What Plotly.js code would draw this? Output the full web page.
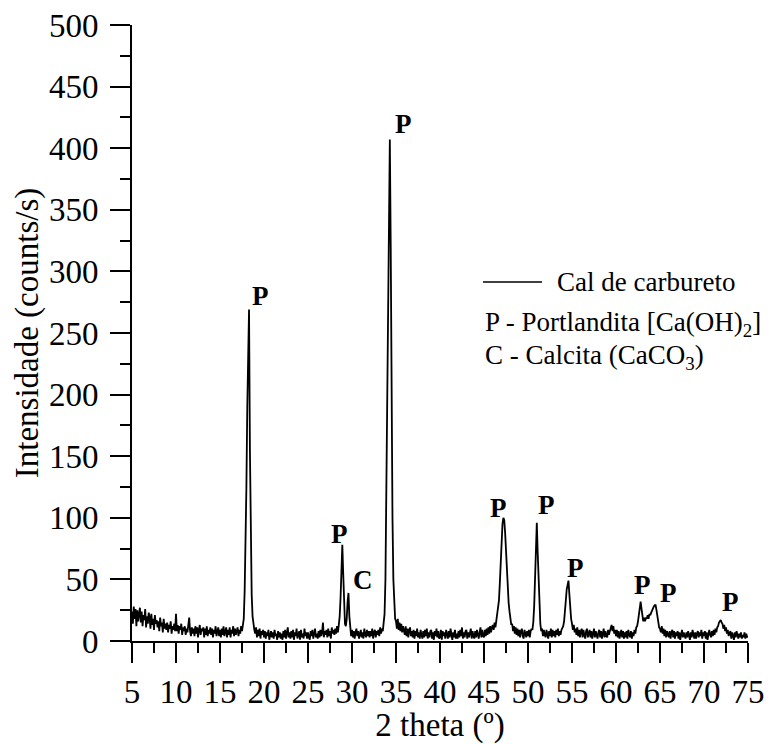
<!DOCTYPE html>
<html>
<head>
<meta charset="utf-8">
<script src="https://cdn.plot.ly/plotly-3.0.1.min.js"></script>
<style>html,body{margin:0;padding:0;background:#fff;}#chart{width:776px;height:744px;}</style>
</head>
<body>
<div id="chart"></div>
<script>
// 2 theta scan: first angle and step (degrees)
const thetaStart = 5;
const thetaStep = 0.1;
// Intensity (counts/s), one row per degree (5.0 ... 75.0)
const intensity = [
  24,14,28,18,26,12,25,16,22,27,
  15,24,12,21,17,26,11,20,14,23,
  19,10,22,13,18,9,21,14,17,11,
  16,8,19,12,15,7,18,10,14,9,
  15,7,13,10,16,6,12,9,14,8,
  22,8,13,6,12,9,14,5,11,8,
  12,5,10,7,13,19,8,4,11,6,
  10,4,12,6,11,3,9,13,5,10,
  8,11,3,10,5,12,4,9,6,11,
  5,10,3,9,6,12,4,8,11,4,
  9,3,10,5,12,4,8,11,3,9,
  5,11,3,9,6,12,4,10,5,8,
  11,4,9,6,12,8,12,18,40,70,
  125,190,245,269,155,80,38,20,12,9,
  6,11,3,9,4,10,2,8,5,9,
  3,8,2,7,4,9,1,6,8,3,
  7,2,9,4,6,1,8,3,7,2,
  6,1,8,3,9,2,6,11,3,7,
  2,8,3,9,1,7,4,10,2,6,
  8,1,9,3,6,2,10,4,7,2,
  7,3,1,8,4,9,2,6,10,3,
  6,2,8,3,9,4,7,15,3,8,
  5,9,3,10,4,8,2,11,6,9,
  5,10,6,12,7,13,20,35,60,78,
  55,25,14,12,18,32,39,20,8,4,
  9,3,8,2,7,10,4,8,2,6,
  9,3,7,2,10,5,3,9,4,8,
  3,8,4,10,2,7,9,3,8,5,
  9,4,11,6,10,8,15,22,50,128,
  210,310,390,407,320,190,100,50,28,18,
  16,10,18,9,15,8,14,7,12,9,
  5,12,4,10,3,9,11,4,8,3,
  9,2,8,4,10,3,7,2,9,5,
  2,8,3,9,4,10,2,7,3,8,
  9,2,7,1,8,4,10,3,8,2,
  3,9,1,8,4,7,2,9,5,2,
  8,3,10,4,1,7,3,9,2,6,
  2,8,3,9,4,11,2,7,3,8,
  9,2,7,3,8,10,2,8,4,2,
  8,3,9,4,2,7,11,3,9,4,
  3,9,4,10,5,11,6,12,7,11,
  13,9,15,11,17,20,24,33,47,68,
  80,95,100,98,88,70,52,40,31,24,
  18,13,14,8,12,6,11,5,10,4,
  9,3,8,10,4,2,9,5,3,8,
  4,9,3,8,10,9,15,28,48,72,
  96,72,45,25,14,8,10,4,9,5,
  3,9,5,2,8,4,10,3,9,4,
  8,3,9,5,10,4,8,5,9,10,
  12,16,22,33,42,48,49,38,26,18,
  14,9,13,7,10,5,11,4,9,3,
  8,10,3,9,5,2,8,10,3,6,
  9,3,8,2,7,10,3,8,5,2,
  7,9,3,8,2,6,10,3,8,4,
  3,9,5,8,11,13,8,12,6,9,
  4,9,3,8,2,7,9,3,8,2,
  7,3,8,2,9,5,3,8,2,7,
  4,9,6,11,12,16,22,29,32,26,
  20,16,19,16,19,18,21,18,22,21,
  23,25,27,28,29,29,25,19,14,11,
  10,7,12,6,10,4,9,3,8,5,
  3,8,2,7,9,3,8,2,7,4,
  8,2,7,1,6,9,3,7,4,2,
  7,3,8,4,1,7,3,9,4,2,
  7,2,6,8,3,7,4,9,2,7,
  4,8,2,7,1,6,9,5,3,8,
  4,9,5,10,7,11,12,15,16,17,
  15,14,10,13,8,11,6,9,4,6,
  8,2,7,4,1,7,3,8,4,2,
  6,3,7,2,5,3,7,2,6,3,
  4
];
// Peak labels
const peakLabels = ["P","P","C","P","P","P","P","P","P","P"];
const peakLabelX = [19.55, 28.6, 31.2, 35.8, 46.7, 52.1, 55.45, 63.0, 66.0, 73.0];
const peakLabelY = [280, 87, 49.5, 420, 108, 110, 59, 45.5, 39, 32];
// Legend texts
const seriesName = "Cal de carbureto";
const phaseNotes = ["P - Portlandita [Ca(OH)<sub>2</sub>]", "C - Calcita (CaCO<sub>3</sub>)"];
// Axis texts
const xTitle = "2 theta (º)";
const yTitle = "Intensidade (counts/s)";

const serif = "Liberation Serif, Times New Roman, serif";

const trace = {
  type: "scatter",
  mode: "lines",
  name: seriesName,
  x0: thetaStart,
  dx: thetaStep,
  y: intensity,
  line: {color: "#000", width: 1.8},
  showlegend: false
};

const annotations = peakLabels.map((t, i) => ({
  x: peakLabelX[i], y: peakLabelY[i], xref: "x", yref: "y",
  text: "<b>" + t + "</b>", showarrow: false,
  font: {family: serif, size: 27, color: "#000"},
  xanchor: "center", yanchor: "middle"
}));

const legFont = {family: serif, size: 27, color: "#000"};
annotations.push({
  xref: "paper", yref: "paper", x: 0.6867, y: 0.5828,
  text: seriesName, showarrow: false, xanchor: "left", yanchor: "middle",
  font: legFont
});
annotations.push({
  xref: "paper", yref: "paper", x: 0.5698, y: 0.514,
  text: phaseNotes[0], showarrow: false, xanchor: "left", yanchor: "middle",
  font: legFont
});
annotations.push({
  xref: "paper", yref: "paper", x: 0.5698, y: 0.461,
  text: phaseNotes[1], showarrow: false, xanchor: "left", yanchor: "middle",
  font: legFont
});

const layout = {
  width: 776, height: 744,
  margin: {l: 132, r: 28, t: 25, b: 103},
  paper_bgcolor: "#fff", plot_bgcolor: "#fff",
  font: {family: serif, color: "#000", size: 33},
  showlegend: false,
  xaxis: {
    range: [5, 75], tickmode: "linear", tick0: 5, dtick: 5,
    ticks: "outside", ticklen: 20, tickwidth: 2, tickcolor: "#000",
    minor: {dtick: 2.5, tick0: 5, ticks: "outside", ticklen: 10, tickwidth: 2, tickcolor: "#000"},
    showline: true, linecolor: "#000", linewidth: 2,
    showgrid: false, zeroline: false,
    tickfont: {family: serif, size: 33, color: "#000"},
    title: {text: xTitle, font: {family: serif, size: 33, color: "#000"}, standoff: 0}
  },
  yaxis: {
    range: [0, 500], tickmode: "linear", tick0: 0, dtick: 50,
    ticks: "outside", ticklen: 20, tickwidth: 2, tickcolor: "#000",
    minor: {dtick: 25, tick0: 0, ticks: "outside", ticklen: 10, tickwidth: 2, tickcolor: "#000"},
    showline: true, linecolor: "#000", linewidth: 2,
    showgrid: false, zeroline: false,
    tickfont: {family: serif, size: 33, color: "#000"},
    ticklabelstandoff: 5,
    title: {text: yTitle, font: {family: serif, size: 33, color: "#000"}, standoff: 0}
  },
  shapes: [{
    type: "line", xref: "paper", yref: "paper",
    x0: 0.5698, x1: 0.6656, y0: 0.5828, y1: 0.5828,
    line: {color: "#000", width: 1.6}
  }],
  annotations: annotations
};

Plotly.newPlot("chart", [trace], layout, {displayModeBar: false, staticPlot: true});
</script>
</body>
</html>
